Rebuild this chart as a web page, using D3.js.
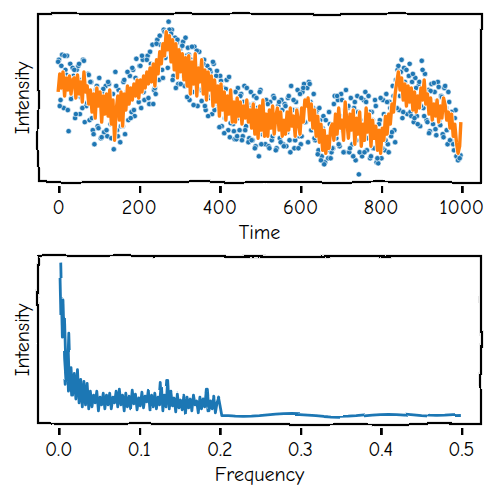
<!DOCTYPE html>
<html>
<head>
<meta charset="utf-8">
<script src="https://cdn.jsdelivr.net/npm/d3@7"></script>
<style>
  body { margin: 0; background: #fff; }
  svg text { font-family: "Comic Sans MS", "Comic Neue", "Humor Sans", "DejaVu Sans", sans-serif; fill: #000; }
  .tick text { font-size: 20px; }
  .axis-label { font-size: 20px; }
</style>
</head>
<body>
<svg id="chart" width="500" height="500"></svg>
<script>
// raw samples, every 4th time step starting at t=2
const timeStep = 4;
const rawValues = [
  40, 0, 45, -8, 30, 44, -31, 36, 5, 24,
  -18, 30, 34, -14, 20, 40, -22, -6, 26, -20,
  18, -30, -44, 10, -26, 22, -38, 6, -32, 14,
  -36, 16, -24, -4, -49, 28, -30, 10, -42, -18,
  18, -34, 8, -20, 24, -12, 30, -16, 41, 6,
  34, -8, 40, 0, 22, 44, -4, 36, 55, 10,
  6, 60, 20, 55, 30, 70, 42, 62, 78, 48,
  70, 24, 62, 57, 16, 50, 30, 58, 14, 44,
  52, 0, 40, 8, 53, 30, -6, 48, 10, 38,
  40, -10, 34, 2, 28, -14, 36, 4, 29, -8,
  24, -26, 12, -18, 20, -30, -37, 8, -24, -39,
  -39, 12, -30, 6, -36, 14, -26, -4, -38, 8,
  -40, 4, -46, -8, -56, 10, -34, -2, -44, -20,
  -46, -2, -40, 4, -30, -48, -6, -38, 0, -44,
  -4, -46, 2, -40, 14, -10, -48, -2, 10, -36,
  -44, 8, 16, -22, 12, 18, -2, -30, 6, -40,
  -10, -50, -20, -56, -16, -62, -40, -58, -24, -52,
  -48, 4, -38, 0, -46, 6, -30, -52, 10, -8,
  -52, 2, -44, -8, -60, 4, -74, -20, -56, 0,
  8, -50, 4, -58, -12, -48, 0, -62, -63, -20,
  -58, 0, -50, 6, -44, -2, -36, 14, -30, 20,
  30, -10, 28, -18, 32, 0, -14, 24, -12, 18,
  -22, 22, -16, 14, -26, 39, -8, 26, -20, 10,
  -31, 16, -24, 8, -35, 18, -20, 4, -34, 12,
  -8, -44, -2, -40, -18, -50, -10, -56, -58, -55
];
// more raw samples, every 4th time step starting at t=0
const rawValues2 = [
  38, -6, 34, 12, 44, 25, -10, 19, 1, 32,
  30, -14, 18, 36, 3, -8, 39, 14, -3, 25,
  18, -18, -34, 5, 14, -28, -1, -37, 11, -12,
  -30, 18, 0, -38, 6, -20, 14, -36, -4, -26,
  -26, 20, -6, 28, 6, -18, 32, -10, 22, 11,
  -2, 34, 44, 8, 22, 40, 2, 48, 27, -4,
  12, 56, 30, 64, 46, 22, 68, 52, 32, 70,
  66, 20, 50, 12, 60, 44, 16, 54, 24, 62,
  3, 45, 19, 53, -5, 37, 49, 11, 33, -1,
  36, -6, 18, -16, 30, 4, 38, -10, 24, -4,
  -27, 19, 3, -33, 11, -13, 23, -23, -1, -31,
  8, -36, -18, 4, -40, -2, -30, 12, -42, -8,
  -40, -4, -48, 2, -26, 8, -44, -12, -34, 0,
  -4, -48, -14, -36, 2, -50, -20, -2, -42, -10,
  -46, -6, -32, 4, -52, -16, 0, -40, -10, -48,
  6, -36, 12, -22, 0, -42, 16, -30, -8, -38,
  -14, -54, -8, -60, -28, -64, -20, -50, -12, -58,
  -48, -4, -30, 4, -44, -16, 0, -52, -10, -36,
  -6, -48, -20, -56, -2, -40, -12, -52, 2, -34,
  -52, -2, -38, -12, -56, -20, -48, -6, -58, -24,
  2, -48, -14, -40, -2, -52, -8, -32, 4, -42,
  -8, 34, 4, 40, -12, 18, 30, -2, 36, -16,
  26, -18, 12, -24, 18, -6, 30, -16, 8, -22,
  -33, 9, -19, 17, -29, -1, 13, -25, 3, -37,
  14, -30, 8, -40, -12, -44, -18, -56, -60, -58
];

// filtered signal, every 4th time step starting at t=0 (last one is t=999)
const filteredValues = [
  8, 26, 12, 28, 4, 22, 10, 24, 6, 20,
  22, 2, 25, 6, 18, -2, 28, 8, 14, -4,
  10, -12, 6, -18, 12, -6, 8, -22, 4, -14,
  6, -16, 10, -24, 0, -40, -10, 4, -20, 8,
  -26, 6, -10, 14, -4, 12, 0, 16, 4, 20,
  2, 20, 8, 24, 12, 28, 16, 32, 18, 36,
  14, 40, 26, 48, 36, 56, 44, 68, 50, 64,
  38, 60, 30, 56, 22, 50, 28, 46, 20, 42,
  14, 44, 6, 38, 16, 46, 4, 32, 18, 40,
  6, 30, 0, 28, 10, 24, -6, 20, -2, 14,
  -16, 16, -10, 8, -20, 4, -14, 10, -22, -2,
  -22, 2, -16, -2, -24, -6, -18, 0, -22, -10,
  -28, -4, -34, -10, -38, -6, -30, 0, -36, -14,
  -36, -10, -28, -6, -34, -16, -8, -30, -12, -36,
  -20, -34, -12, -30, -8, -26, -16, -36, -10, -22,
  -34, -8, -22, 0, -6, 2, -20, -4, -28, -10,
  -36, -16, -42, -24, -50, -30, -53, -36, -48, -28,
  -24, -40, -14, -34, -8, -28, -20, -40, -2, -20,
  -38, -14, -30, -10, -44, -18, -34, -12, -46, -24,
  -40, -8, -32, -14, -46, -20, -38, -26, -50, -30,
  -53, -28, -40, -16, -34, -14, -24, -4, -12, 6,
  18, 28, 10, 22, 0, 16, -6, 14, -2, 12,
  -10, 8, -12, 4, -8, 12, 0, 20, -4, 6,
  -14, 2, -20, -4, -16, 0, -22, -6, -18, 2,
  -5, -20, -12, -28, -14, -36, -24, -42, -53, -46,
  -22
];

// spectrum below 0.2, bins every 0.002 starting at 0.002
const lowFreqStep = 0.002;
const spectrumLow = [
  156, 80, 120, 60, 34, 84, 27, 50, 22, 44,
  18, 48, 14, 38, 10, 36, 12, 34, 8, 26,
  10, 22, 14, 26, 6, 20, 12, 24, 8, 22,
  12, 24, 8, 20, 14, 26, 10, 28, 12, 22,
  6, 24, 10, 20, 8, 26, 12, 22, 6, 18,
  10, 24, 8, 20, 14, 26, 6, 22, 10, 24,
  8, 20, 12, 35, 6, 22, 10, 37, 8, 26,
  12, 20, 6, 24, 10, 18, 8, 22, 4, 20,
  10, 18, 6, 22, 12, 16, 4, 20, 8, 18,
  10, 27, 6, 16, 8, 20, 4, 14, 19, 10
];
// spectrum above 0.2
const highFreqs = [0.202, 0.21, 0.22, 0.23, 0.24, 0.25, 0.26, 0.27, 0.28, 0.29, 0.30,
  0.31, 0.32, 0.33, 0.34, 0.35, 0.36, 0.37, 0.38, 0.39, 0.40,
  0.41, 0.42, 0.43, 0.44, 0.45, 0.46, 0.47, 0.48, 0.49, 0.50];
const spectrumHigh = [1, 1, 0.5, 0.3, 0.5, 1, 1.8, 2.5, 3, 3.2, 3,
  2.6, 2, 1.2, 0.6, 0.3, 0.5, 1, 1.8, 2.5, 3,
  3.2, 3, 2.5, 1.8, 1, 0.5, 0.3, 0.5, 1, 1.2];

const timeTicks = [0, 200, 400, 600, 800, 1000];
const freqTicks = [0, 0.1, 0.2, 0.3, 0.4, 0.5];

const blue = '#1f77b4';
const orange = '#ff7f0e';

const svg = d3.select('#chart');

// wobbly hand-drawn look
const defs = svg.append('defs');
const filt = defs.append('filter')
  .attr('id', 'sketch')
  .attr('filterUnits', 'userSpaceOnUse')
  .attr('x', 0).attr('y', 0).attr('width', 500).attr('height', 500);
filt.append('feTurbulence')
  .attr('type', 'fractalNoise')
  .attr('baseFrequency', 0.025)
  .attr('numOctaves', 1)
  .attr('seed', 4)
  .attr('result', 'noise');
filt.append('feDisplacementMap')
  .attr('in', 'SourceGraphic')
  .attr('in2', 'noise')
  .attr('scale', 4)
  .attr('xChannelSelector', 'R')
  .attr('yChannelSelector', 'G');

// pad a domain like matplotlib does (5%)
function padded(ext, frac = 0.05) {
  const d = (ext[1] - ext[0]) * frac;
  return [ext[0] - d, ext[1] + d];
}

function drawFrame(x, y, ticks, tickFmt, xLabel, yLabel) {
  const [x0, x1] = x.range();
  const [yb, yt] = y.range();

  // tick marks and labels
  const ax = svg.append('g')
    .attr('transform', `translate(0,${yb + 4})`)
    .call(d3.axisBottom(x).tickValues(ticks).tickSize(7).tickPadding(5).tickFormat(tickFmt));
  ax.select('.domain').remove();
  ax.selectAll('.tick line')
    .attr('stroke', '#000')
    .attr('stroke-width', 4)
    .attr('filter', 'url(#sketch)');
  ax.selectAll('.tick text').attr('dy', '0.8em');

  // frame
  svg.append('rect')
    .attr('x', x0).attr('y', yt)
    .attr('width', x1 - x0).attr('height', yb - yt)
    .attr('fill', 'none')
    .attr('stroke', '#000')
    .attr('stroke-width', 2.2)
    .attr('filter', 'url(#sketch)');

  svg.append('text')
    .attr('class', 'axis-label')
    .attr('x', (x0 + x1) / 2)
    .attr('y', yb + 57)
    .attr('text-anchor', 'middle')
    .text(xLabel);

  svg.append('text')
    .attr('class', 'axis-label')
    .attr('transform', `translate(29,${(yt + yb) / 2}) rotate(-90)`)
    .attr('text-anchor', 'middle')
    .text(yLabel);
}

// ---------- top: time series ----------
const rawData = rawValues.map((v, i) => ({ t: 2 + i * timeStep, v }))
  .concat(rawValues2.map((v, i) => ({ t: i * timeStep, v })));
const filtData = filteredValues.map((v, i) => ({ t: Math.min(i * timeStep, 999), v }));

const xTime = d3.scaleLinear().domain(padded([0, 999])).range([38, 481]);
const yTop = d3.scaleLinear()
  .domain(padded(d3.extent(rawValues.concat(rawValues2, filteredValues))))
  .range([182, 14]);

svg.append('g')
  .selectAll('circle')
  .data(rawData)
  .join('circle')
  .attr('cx', d => xTime(d.t))
  .attr('cy', d => yTop(d.v))
  .attr('r', 2.7)
  .attr('fill', blue)
  .attr('stroke', '#fff')
  .attr('stroke-width', 0.6);

const lineTop = d3.line().x(d => xTime(d.t)).y(d => yTop(d.v));
svg.append('path')
  .datum(filtData)
  .attr('d', lineTop)
  .attr('fill', 'none')
  .attr('stroke', '#fff')
  .attr('stroke-width', 5)
  .attr('stroke-linejoin', 'round');
svg.append('path')
  .datum(filtData)
  .attr('d', lineTop)
  .attr('fill', 'none')
  .attr('stroke', orange)
  .attr('stroke-width', 3.4)
  .attr('stroke-linejoin', 'round');

drawFrame(xTime, yTop, timeTicks, d3.format('d'), 'Time', 'Intensity');

// ---------- bottom: spectrum ----------
const specData = spectrumLow.map((v, i) => ({ f: (i + 1) * lowFreqStep, v }))
  .concat(spectrumHigh.map((v, i) => ({ f: highFreqs[i], v })));

const xFreq = d3.scaleLinear().domain(padded([0, 0.5])).range([38, 481]);
const yBot = d3.scaleLinear()
  .domain(padded(d3.extent(specData, d => d.v)))
  .range([424, 256]);

svg.append('path')
  .datum(specData)
  .attr('d', d3.line().x(d => xFreq(d.f)).y(d => yBot(d.v)))
  .attr('fill', 'none')
  .attr('stroke', blue)
  .attr('stroke-width', 2.8)
  .attr('stroke-linejoin', 'round')
  .attr('filter', 'url(#sketch)');

drawFrame(xFreq, yBot, freqTicks, d3.format('.1f'), 'Frequency', 'Intensity');
</script>
</body>
</html>
